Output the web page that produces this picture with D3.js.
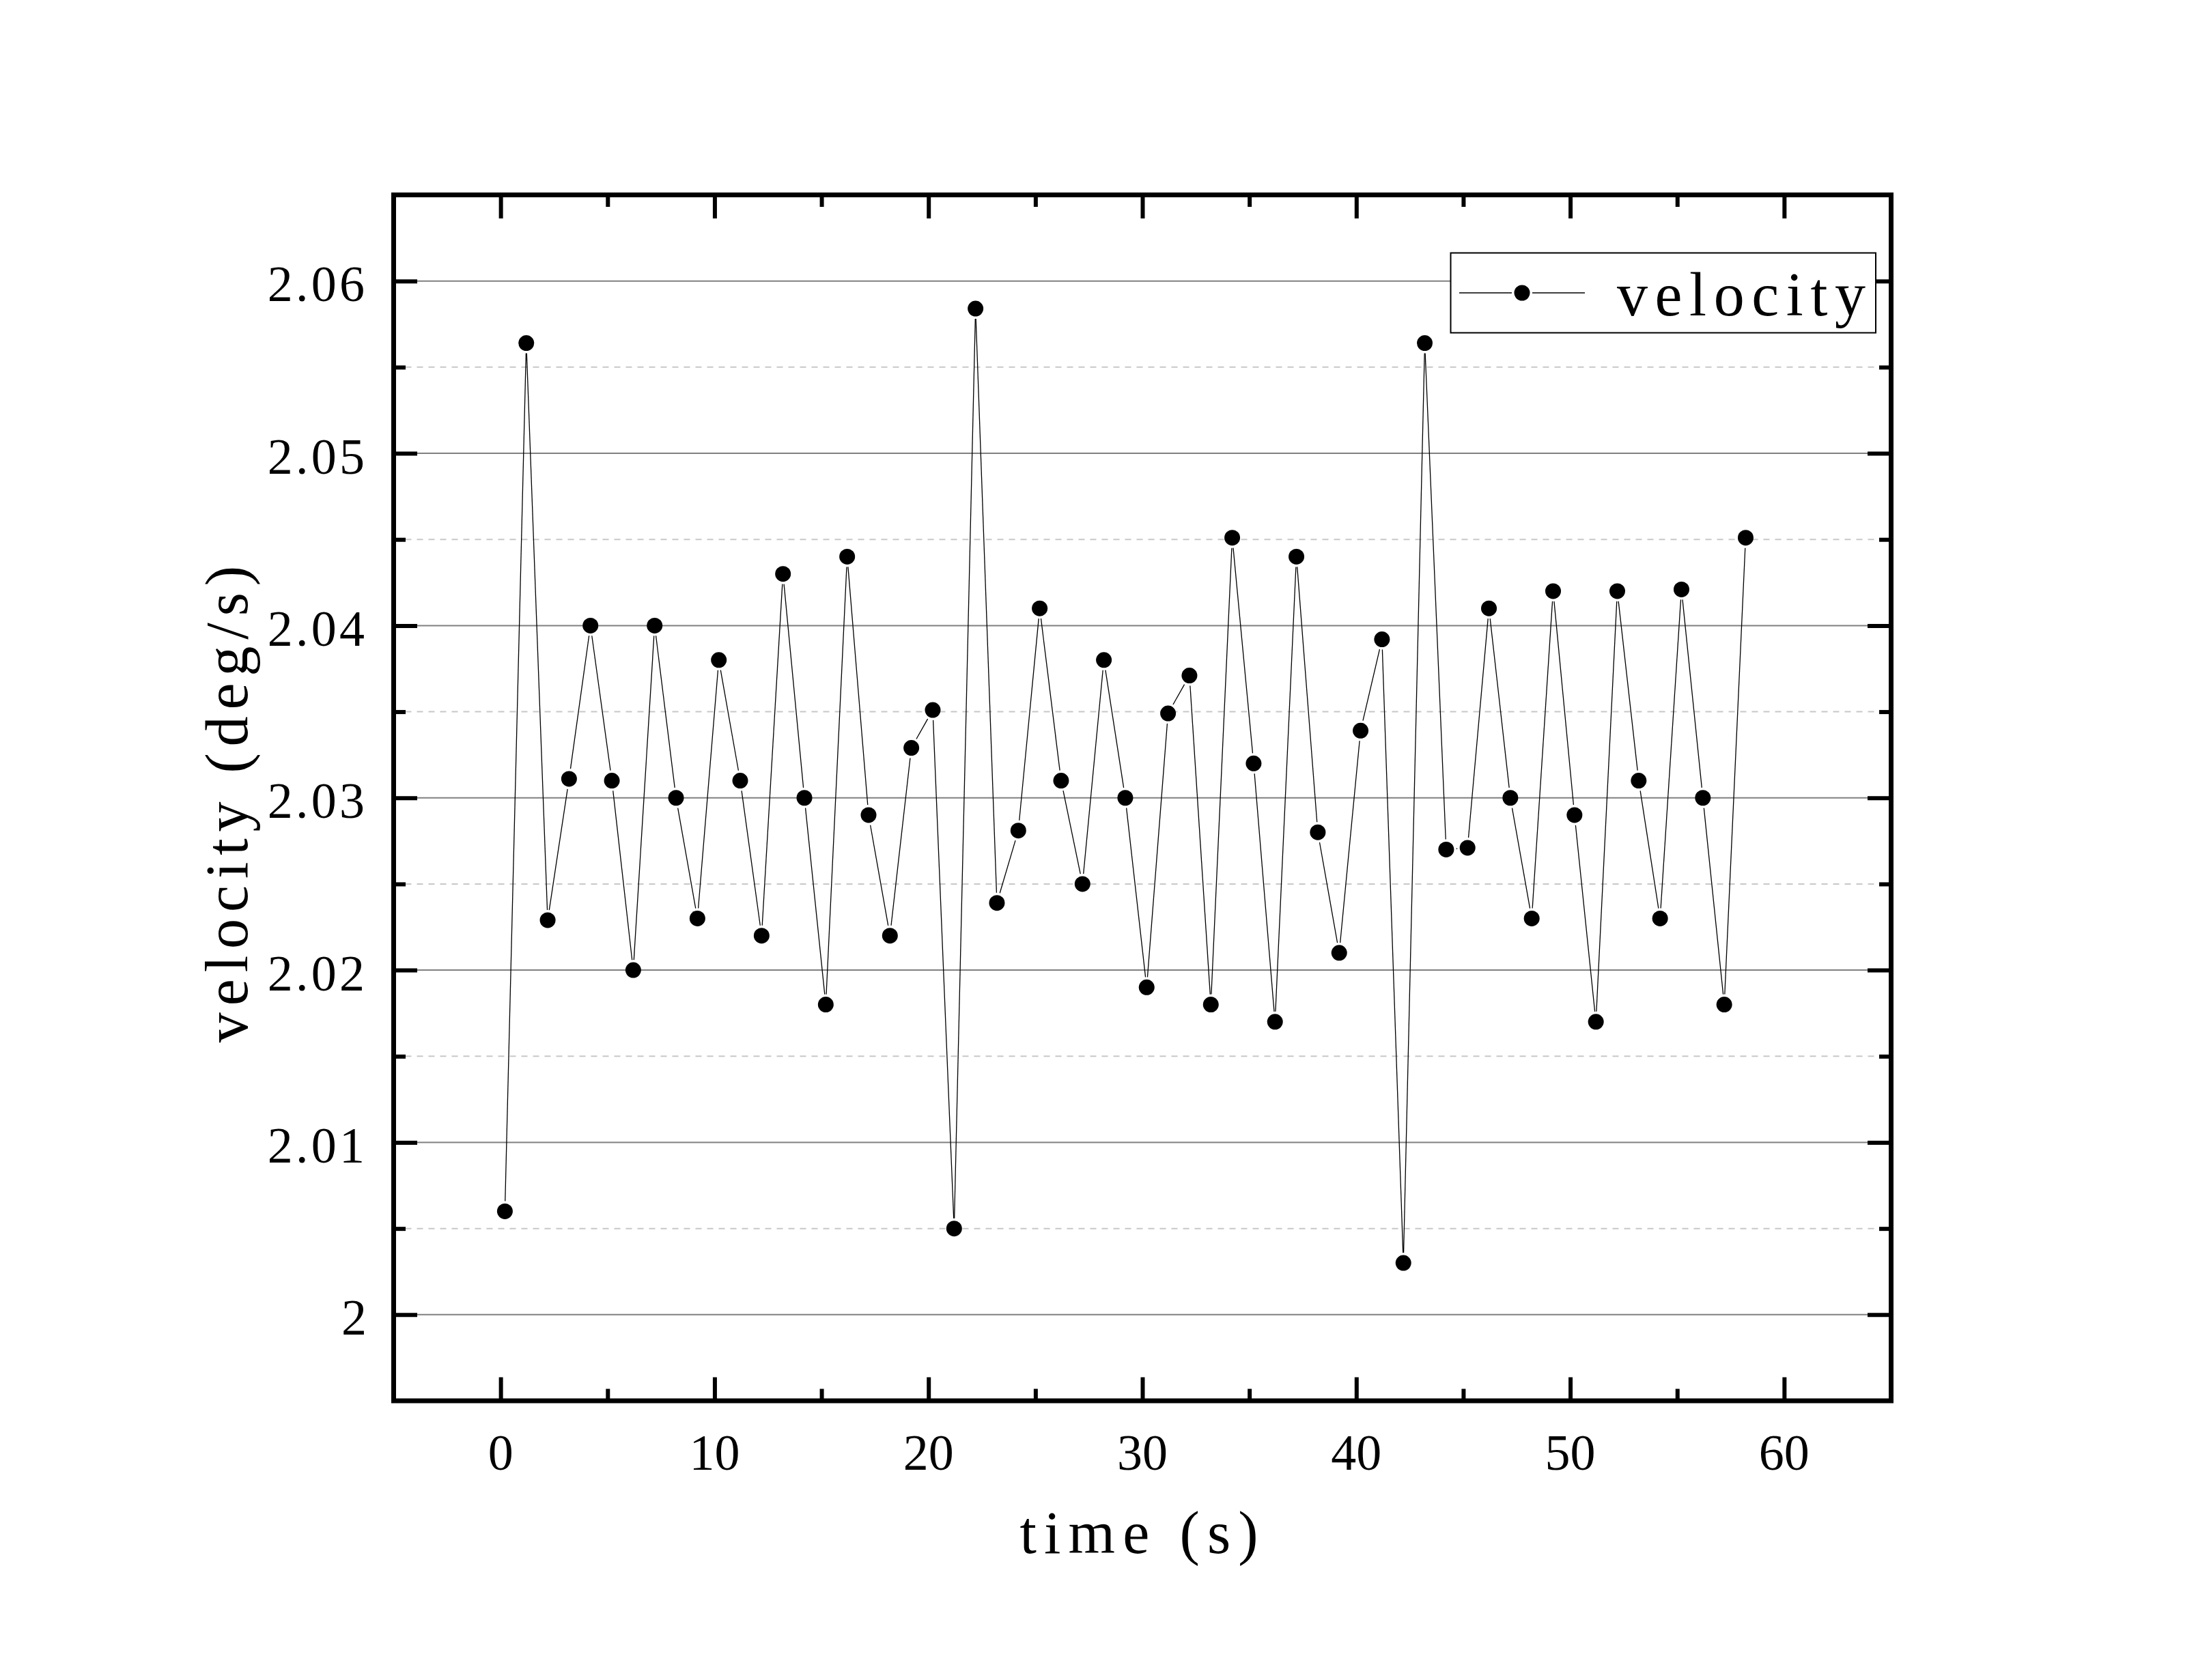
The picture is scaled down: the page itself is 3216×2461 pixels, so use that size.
<!DOCTYPE html>
<html>
<head>
<meta charset="utf-8">
<script src="https://cdn.jsdelivr.net/npm/d3@7"></script>
<style>
  html, body { margin: 0; padding: 0; background: #fff; }
  svg { display: block; }
</style>
</head>
<body>
<script>
// ---------------- data ----------------
const time = [0.2, 1.2, 2.2, 3.2, 4.2, 5.2, 6.2, 7.2, 8.2, 9.2,
  10.2, 11.2, 12.2, 13.2, 14.2, 15.2, 16.2, 17.2, 18.2, 19.2,
  20.2, 21.2, 22.2, 23.2, 24.2, 25.2, 26.2, 27.2, 28.2, 29.2,
  30.2, 31.2, 32.2, 33.2, 34.2, 35.2, 36.2, 37.2, 38.2, 39.2,
  40.2, 41.2, 42.2, 43.2, 44.2, 45.2, 46.2, 47.2, 48.2, 49.2,
  50.2, 51.2, 52.2, 53.2, 54.2, 55.2, 56.2, 57.2, 58.2];
const velocity = [2.006, 2.0564, 2.0229, 2.0311, 2.040, 2.031, 2.020, 2.040, 2.030, 2.023,
  2.038, 2.031, 2.022, 2.043, 2.030, 2.018, 2.044, 2.029, 2.022, 2.0329,
  2.0351, 2.005, 2.0584, 2.0239, 2.0281, 2.041, 2.031, 2.025, 2.038, 2.030,
  2.019, 2.0349, 2.0371, 2.018, 2.0451, 2.032, 2.017, 2.044, 2.028, 2.021,
  2.0339, 2.0392, 2.003, 2.0564, 2.027, 2.0271, 2.041, 2.030, 2.023, 2.042,
  2.029, 2.017, 2.042, 2.031, 2.023, 2.0421, 2.030, 2.018, 2.0451];
const xMajorTicks = [0, 10, 20, 30, 40, 50, 60];
const xMinorTicks = [5, 15, 25, 35, 45, 55];
const xTickLabels = ["0", "10", "20", "30", "40", "50", "60"];
const yMajorTicks = [2.00, 2.01, 2.02, 2.03, 2.04, 2.05, 2.06];
const yMinorTicks = [2.005, 2.015, 2.025, 2.035, 2.045, 2.055];
const yTickLabels = ["2", "2.01", "2.02", "2.03", "2.04", "2.05", "2.06"];
const xTitle = "time (s)";
const yTitle = "velocity (deg/s)";
const seriesName = "velocity";

// ---------------- layout ----------------
const W = 3216, H = 2461;
const L = 576.5, R = 2769.5, T = 285.5, B = 2052;
const FONT = "'Liberation Serif', 'Times New Roman', serif";
const tickFS = 74, titleFS = 88, legendFS = 90;
const R_MARK = 11.5, GAP = 15;

const svg = d3.select("body").append("svg")
  .attr("width", W).attr("height", H)
  .attr("viewBox", `0 0 ${W} ${H}`);
svg.append("rect").attr("width", W).attr("height", H).attr("fill", "#fff");

const x = d3.scaleLinear().domain([-5, 65]).range([L, R]);
const y = d3.scaleLinear().domain([1.995, 2.065]).range([B, T]);

// ---------------- grid ----------------
const grid = svg.append("g");
grid.selectAll("line.minor").data(yMinorTicks).join("line")
  .attr("class", "minor")
  .attr("x1", L).attr("x2", R)
  .attr("y1", d => y(d)).attr("y2", d => y(d))
  .attr("stroke", "#c8c8c8").attr("stroke-width", 2)
  .attr("stroke-dasharray", "9,8");
grid.selectAll("line.major").data(yMajorTicks).join("line")
  .attr("class", "major")
  .attr("x1", L).attr("x2", R)
  .attr("y1", d => y(d)).attr("y2", d => y(d))
  .attr("stroke", "#808080").attr("stroke-width", 2);

// ---------------- data line (with gaps at markers) ----------------
const pts = time.map((t, i) => [x(t), y(velocity[i])]);
const segs = [];
for (let i = 0; i < pts.length - 1; i++) {
  const [x1, y1] = pts[i], [x2, y2] = pts[i + 1];
  const dx = x2 - x1, dy = y2 - y1, len = Math.hypot(dx, dy);
  if (len <= 2 * GAP) continue;
  const ux = dx / len, uy = dy / len;
  segs.push([x1 + ux * GAP, y1 + uy * GAP, x2 - ux * GAP, y2 - uy * GAP]);
}
svg.append("g").selectAll("line").data(segs).join("line")
  .attr("x1", d => d[0]).attr("y1", d => d[1])
  .attr("x2", d => d[2]).attr("y2", d => d[3])
  .attr("stroke", "#000").attr("stroke-width", 1.3);

svg.append("g").selectAll("circle").data(velocity).join("circle")
  .attr("cx", (d, i) => x(time[i])).attr("cy", d => y(d))
  .attr("r", R_MARK).attr("fill", "#000");

// ---------------- axes ticks (inward) ----------------
function styleAxis(g) {
  g.select(".domain").remove();
  g.selectAll(".tick text").remove();
  g.selectAll(".tick line").attr("stroke", "#000").attr("stroke-width", 6);
}
const MAJ = 34.5, MIN = 17.5;
svg.append("g").attr("transform", `translate(0,${B})`)
  .call(d3.axisBottom(x).tickValues(xMajorTicks).tickSize(-MAJ)).call(styleAxis);
svg.append("g").attr("transform", `translate(0,${B})`)
  .call(d3.axisBottom(x).tickValues(xMinorTicks).tickSize(-MIN)).call(styleAxis);
svg.append("g").attr("transform", `translate(0,${T})`)
  .call(d3.axisTop(x).tickValues(xMajorTicks).tickSize(-MAJ)).call(styleAxis);
svg.append("g").attr("transform", `translate(0,${T})`)
  .call(d3.axisTop(x).tickValues(xMinorTicks).tickSize(-MIN)).call(styleAxis);
svg.append("g").attr("transform", `translate(${L},0)`)
  .call(d3.axisLeft(y).tickValues(yMajorTicks).tickSize(-MAJ)).call(styleAxis);
svg.append("g").attr("transform", `translate(${L},0)`)
  .call(d3.axisLeft(y).tickValues(yMinorTicks).tickSize(-MIN)).call(styleAxis);
svg.append("g").attr("transform", `translate(${R},0)`)
  .call(d3.axisRight(y).tickValues(yMajorTicks).tickSize(-MAJ)).call(styleAxis);
svg.append("g").attr("transform", `translate(${R},0)`)
  .call(d3.axisRight(y).tickValues(yMinorTicks).tickSize(-MIN)).call(styleAxis);

// frame
svg.append("rect")
  .attr("x", L).attr("y", T).attr("width", R - L).attr("height", B - T)
  .attr("fill", "none").attr("stroke", "#000").attr("stroke-width", 7);

// ---------------- tick labels ----------------
const charW = tickFS * 0.487;
svg.append("g").selectAll("text").data(xMajorTicks).join("text")
  .attr("x", d => x(d)).attr("y", B + 100.5)
  .attr("text-anchor", "middle")
  .attr("font-family", FONT).attr("font-size", tickFS).attr("fill", "#000")
  .text((d, i) => xTickLabels[i]);

svg.append("g").selectAll("text").data(yMajorTicks).join("text")
  .each(function (d, i) {
    const lab = yTickLabels[i];
    const w = lab.length * charW;
    const t = d3.select(this)
      .attr("x", 536 - w).attr("y", y(d) + 29.5)
      .attr("font-family", FONT).attr("font-size", tickFS).attr("fill", "#000")
      .text(lab);
    if (lab.length > 1) t.attr("textLength", w - 2).attr("lengthAdjust", "spacing");
  });

// ---------------- axis titles ----------------
const titleCW = titleFS * 0.496;
const xtW = xTitle.length * titleCW;
svg.append("text")
  .attr("x", 1668 - xtW / 2).attr("y", 2275)
  .attr("font-family", FONT).attr("font-size", titleFS).attr("fill", "#000")
  .attr("textLength", xtW).attr("lengthAdjust", "spacing")
  .text(xTitle);

const ytW = yTitle.length * titleCW;
svg.append("text")
  .attr("transform", `translate(362,${1178}) rotate(-90)`)
  .attr("x", -ytW / 2).attr("y", 0)
  .attr("font-family", FONT).attr("font-size", titleFS).attr("fill", "#000")
  .attr("textLength", ytW).attr("lengthAdjust", "spacing")
  .text(yTitle);

// ---------------- legend ----------------
const lg = svg.append("g");
lg.append("rect")
  .attr("x", 2124.5).attr("y", 370.5).attr("width", 622.5).attr("height", 117)
  .attr("fill", "#fff").attr("stroke", "#000").attr("stroke-width", 2);
const lgY = 429, lgX1 = 2137, lgX2 = 2321, lgM = 2229;
lg.append("line").attr("x1", lgX1).attr("x2", lgM - GAP).attr("y1", lgY).attr("y2", lgY)
  .attr("stroke", "#000").attr("stroke-width", 1.3);
lg.append("line").attr("x1", lgM + GAP).attr("x2", lgX2).attr("y1", lgY).attr("y2", lgY)
  .attr("stroke", "#000").attr("stroke-width", 1.3);
lg.append("circle").attr("cx", lgM).attr("cy", lgY).attr("r", R_MARK).attr("fill", "#000");
lg.append("text")
  .attr("x", 2368).attr("y", 461.5)
  .attr("font-family", FONT).attr("font-size", legendFS).attr("fill", "#000")
  .attr("textLength", 364).attr("lengthAdjust", "spacing")
  .text(seriesName);
</script>
</body>
</html>
